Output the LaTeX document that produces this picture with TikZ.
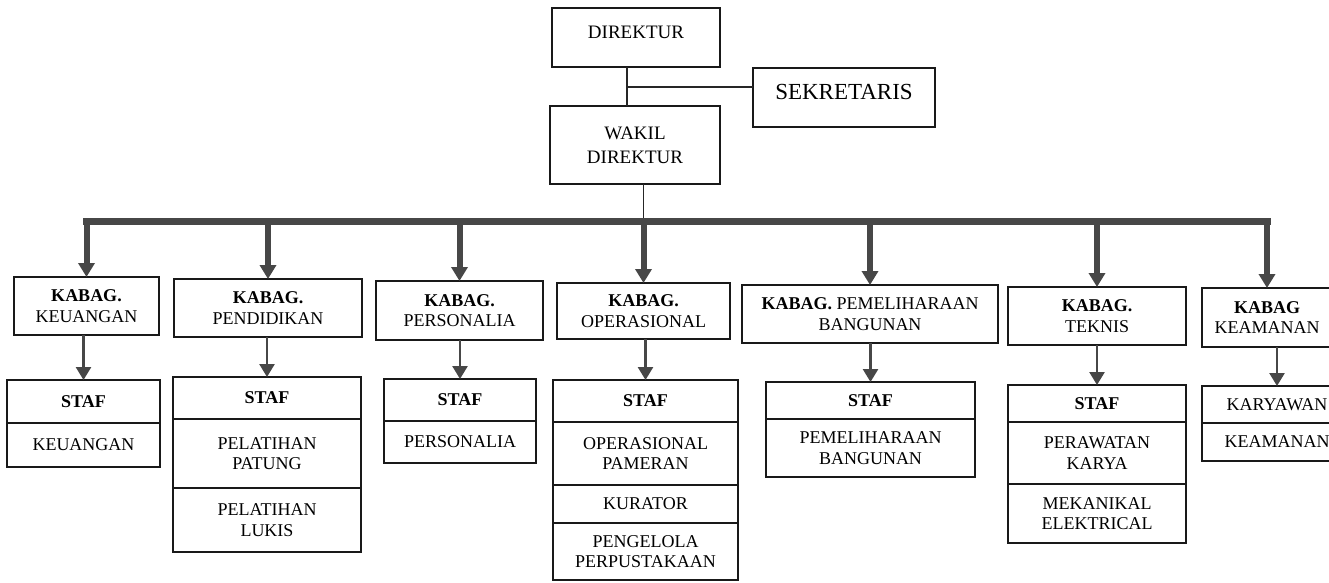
\documentclass[tikz,border=0pt]{standalone}
\usepackage{fontspec}
\setmainfont{Liberation Serif}
\usetikzlibrary{positioning,arrows.meta}
\newcommand{\fsz}[2]{\fontsize{#1pt}{#2pt}\selectfont}
\tikzset{
  box/.style={draw=black!90, line width=2pt, align=center, inner sep=0pt, outer sep=0pt, font=\fsz{18}{20.5}},
  cell/.style 2 args={box, minimum width=#1, minimum height=#2},
  link/.style={draw=black!85, line width=1.8pt},
  busline/.style={draw=black!72, line width=7pt, line cap=rect},
  bigarrow/.style={draw=black!72, line width=6pt, -{Triangle[width=16pt,length=14pt]}},
  smallarrow/.style={draw=black!72, line width=2.6pt, -{Triangle[width=15pt,length=13pt]}}
}
\begin{document}
\begin{tikzpicture}[x=1pt,y=-1pt]
\useasboundingbox (0,0) rectangle (1329,582);
%TOP
\node[cell={168}{59}, font=\fsz{19}{23}, text height=12.6pt, text depth=11pt] (dir) at (636,37.5) {DIREKTUR};
\node[cell={182}{59}, font=\fsz{23}{26}, text height=15.2pt, text depth=11pt] (sek) at (844,97.5) {SEKRETARIS};
\node[cell={170}{78}, font=\fsz{19}{24}] (wak) at (635,145) {WAKIL\\DIREKTUR};
%KABAG
\node[cell={145}{58}] (keu) at (86.5,306) {\textbf{KABAG.}\\KEUANGAN};
\node[cell={188}{58}] (pen) at (268,308) {\textbf{KABAG.}\\PENDIDIKAN};
\node[cell={167}{59}] (per) at (459.5,310.5) {\textbf{KABAG.}\\PERSONALIA};
\node[cell={173}{56}] (ope) at (643.5,311) {\textbf{KABAG.}\\OPERASIONAL};
\node[cell={256}{58}] (pem) at (870,314) {\textbf{KABAG.} PEMELIHARAAN\\BANGUNAN};
\node[cell={178}{58}] (tek) at (1097,316) {\textbf{KABAG.}\\TEKNIS};
\node[cell={130}{59}] (kea) at (1267,317.5) {\textbf{KABAG}\\KEAMANAN};
%STAF KEUANGAN
\node[cell={153}{43}, anchor=north] (keus) at (83.5,380) {\textbf{STAF}};
\node[cell={153}{44}, below=0pt of keus] (keus1) {KEUANGAN};
%STAF PENDIDIKAN
\node[cell={188}{42}, anchor=north] (pens) at (267,377) {\textbf{STAF}};
\node[cell={188}{69}, below=0pt of pens] (pens1) {PELATIHAN\\PATUNG};
\node[cell={188}{64}, below=0pt of pens1] (pens2) {PELATIHAN\\LUKIS};
%STAF PERSONALIA
\node[cell={152}{42}, anchor=north] (pers) at (460,379) {\textbf{STAF}};
\node[cell={152}{42}, below=0pt of pers] (pers1) {PERSONALIA};
%STAF OPERASIONAL
\node[cell={185}{42}, anchor=north] (opes) at (645.5,380) {\textbf{STAF}};
\node[cell={185}{63}, below=0pt of opes] (opes1) {OPERASIONAL\\PAMERAN};
\node[cell={185}{38}, below=0pt of opes1] (opes2) {KURATOR};
\node[cell={185}{57}, below=0pt of opes2] (opes3) {PENGELOLA\\PERPUSTAKAAN};
%STAF PEMELIHARAAN
\node[cell={209}{37}, anchor=north] (pems) at (870.5,382) {\textbf{STAF}};
\node[cell={209}{58}, below=0pt of pems] (pems1) {PEMELIHARAAN\\BANGUNAN};
%STAF TEKNIS
\node[cell={178}{37}, anchor=north] (teks) at (1097,385) {\textbf{STAF}};
\node[cell={178}{62}, below=0pt of teks] (teks1) {PERAWATAN\\KARYA};
\node[cell={178}{59}, below=0pt of teks1] (teks2) {MEKANIKAL\\ELEKTRICAL};
%KARYAWAN KEAMANAN
\node[cell={150}{37}, anchor=north] (keas) at (1277,386) {KARYAWAN};
\node[cell={150}{38}, below=0pt of keas] (keas1) {KEAMANAN};
%DIREKTUR to WAKIL, SEKRETARIS
\coordinate (jn) at (627,87);
\draw[link] (jn |- dir.south) -- (jn |- wak.north);
\draw[link] (jn) -- (jn -| sek.west);
%WAKIL to bus
\coordinate (bus) at (0,221);
\draw[link] (ope.north |- wak.south) -- (ope.north |- bus);
\draw[busline] (keu.north |- bus) -- (kea.north |- bus);
%bus to KABAG
\draw[bigarrow] (keu.north |- bus) -- (keu.north);
\draw[bigarrow] (pen.north |- bus) -- (pen.north);
\draw[bigarrow] (per.north |- bus) -- (per.north);
\draw[bigarrow] (ope.north |- bus) -- (ope.north);
\draw[bigarrow] (pem.north |- bus) -- (pem.north);
\draw[bigarrow] (tek.north |- bus) -- (tek.north);
\draw[bigarrow] (kea.north |- bus) -- (kea.north);
%KABAG to STAF
\draw[smallarrow] (keus.north |- keu.south) -- (keus.north);
\draw[smallarrow] (pens.north |- pen.south) -- (pens.north);
\draw[smallarrow] (pers.north |- per.south) -- (pers.north);
\draw[smallarrow] (opes.north |- ope.south) -- (opes.north);
\draw[smallarrow] (pems.north |- pem.south) -- (pems.north);
\draw[smallarrow] (teks.north |- tek.south) -- (teks.north);
\draw[smallarrow] (keas.north |- kea.south) -- (keas.north);
\end{tikzpicture}
\end{document}
